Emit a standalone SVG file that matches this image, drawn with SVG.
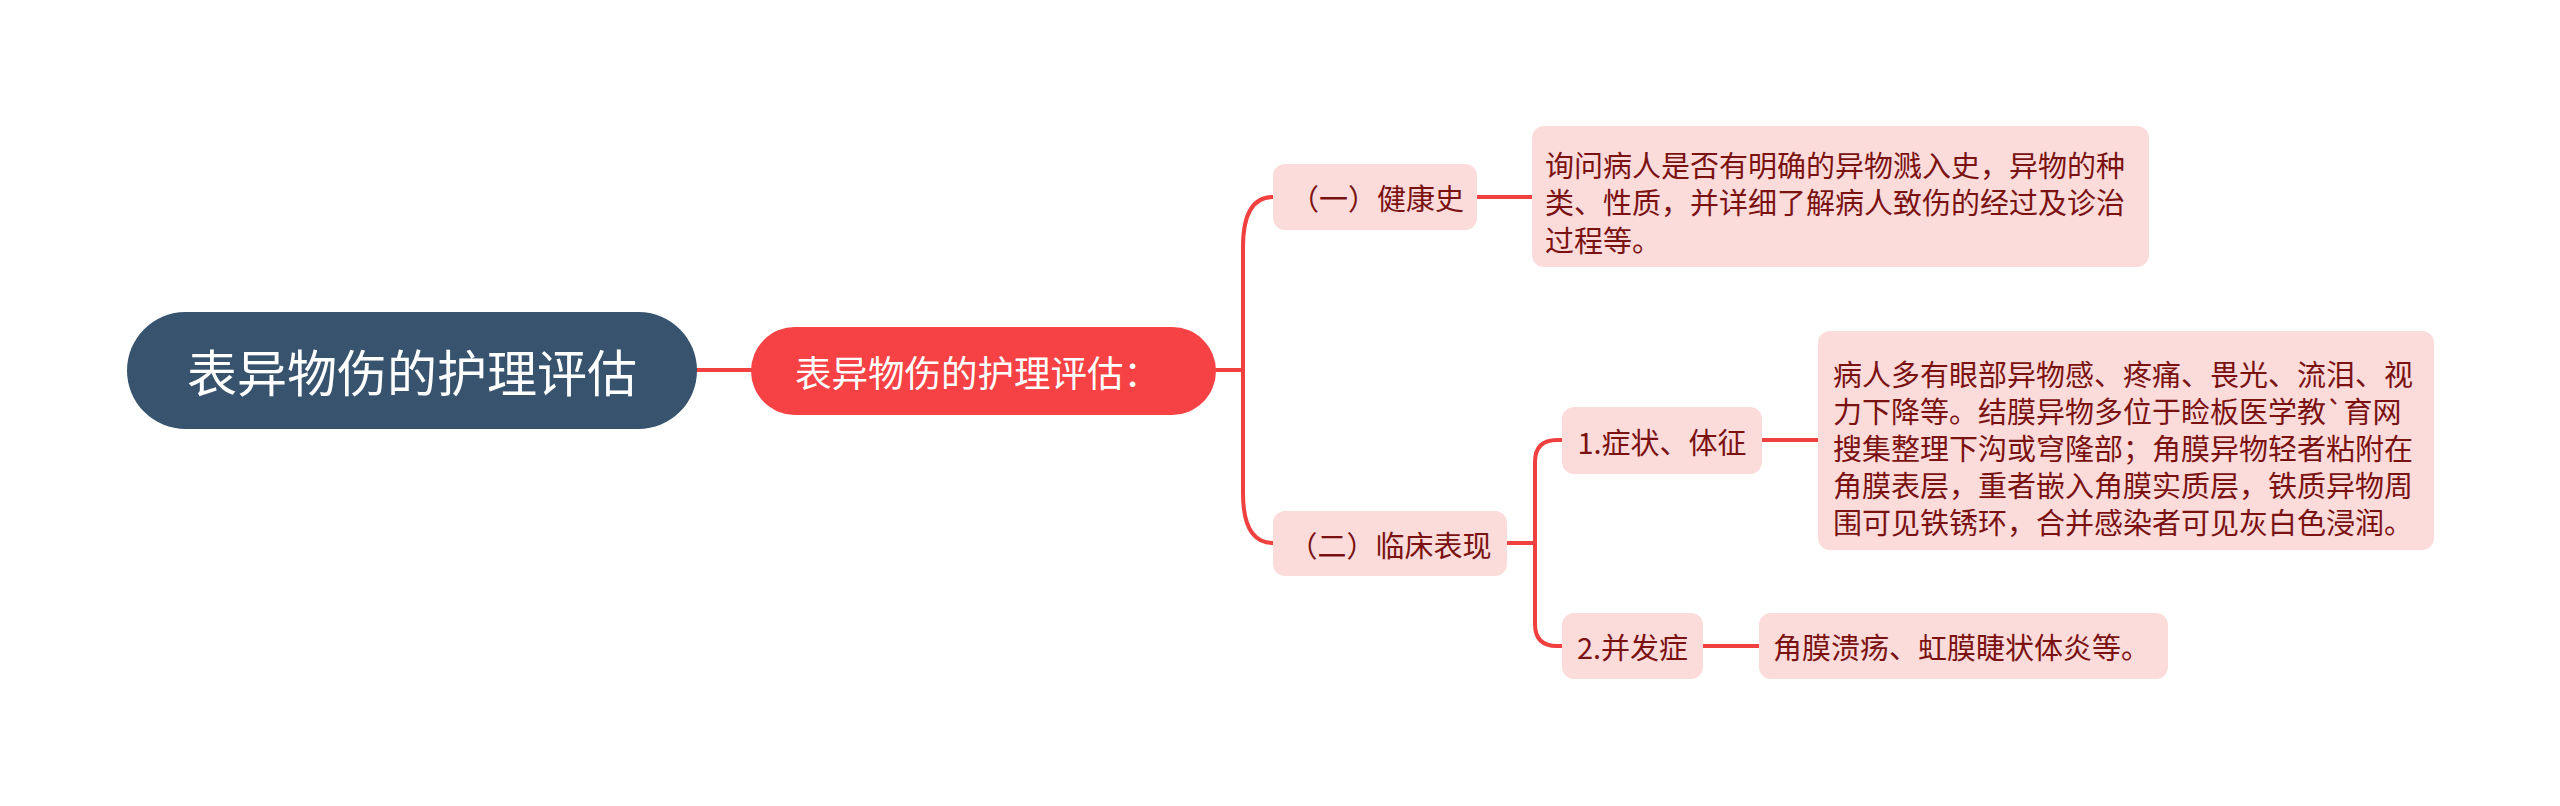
<svg xmlns="http://www.w3.org/2000/svg" width="2560" height="806" viewBox="0 0 2560 806">
<style>
.conn{fill:none;stroke:#f0403f;stroke-width:4;stroke-linecap:round}
.pink{fill:#fcdbdb}
.t{font-family:"Noto Sans CJK SC","Noto Sans",sans-serif;dominant-baseline:central}
.pt{fill:#7a1212;font-size:29px}
.wt{fill:#ffffff}
</style>
<rect width="2560" height="806" fill="#ffffff"/>
<g id="connectors">
<path class="conn" d="M697,370 H751"/>
<path class="conn" d="M1216,370 H1243"/>
<path class="conn" d="M1243,370 V247 Q1243,197 1273,197"/>
<path class="conn" d="M1243,370 V493 Q1243,543 1273,543"/>
<path class="conn" d="M1477,197 H1533"/>
<path class="conn" d="M1507,543 H1535"/>
<path class="conn" d="M1535,543 V462 Q1535,440 1557,440 H1562"/>
<path class="conn" d="M1535,543 V624 Q1535,646 1557,646 H1562"/>
<path class="conn" d="M1762,440 H1818"/>
<path class="conn" d="M1703,646 H1759"/>
</g>
<g id="root">
<rect x="127" y="312" width="570" height="117" rx="58.5" fill="#37536e"/>
<text class="t wt" x="412" y="370" font-size="50" text-anchor="middle">表异物伤的护理评估</text>
</g>
<g id="main">
<rect x="751" y="327" width="465" height="88" rx="44" fill="#f74245"/>
<text class="t wt" x="795" y="371" font-size="36.5">表异物伤的护理评估：</text>
</g>
<g id="health-history">
<rect class="pink" x="1273" y="164" width="204" height="66" rx="12"/>
<text class="t pt" x="1377" y="197" text-anchor="middle">（一）健康史</text>
</g>
<g id="health-history-detail">
<rect class="pink" x="1532" y="126" width="617" height="141" rx="12"/>
<text class="t pt" x="1545" y="163.5">询问病人是否有明确的异物溅入史，异物的种</text>
<text class="t pt" x="1545" y="201">类、性质，并详细了解病人致伤的经过及诊治</text>
<text class="t pt" x="1545" y="238.5">过程等。</text>
</g>
<g id="clinical">
<rect class="pink" x="1273" y="511" width="234" height="65" rx="12"/>
<text class="t pt" x="1390" y="543.5" text-anchor="middle">（二）临床表现</text>
</g>
<g id="symptoms">
<rect class="pink" x="1562" y="407" width="200" height="67" rx="12"/>
<text class="t pt" x="1662" y="440.5" text-anchor="middle">1.症状、体征</text>
</g>
<g id="symptoms-detail">
<rect class="pink" x="1818" y="331" width="616" height="219" rx="12"/>
<text class="t pt" x="1833" y="372.5">病人多有眼部异物感、疼痛、畏光、流泪、视</text>
<text class="t pt" x="1833" y="409.5">力下降等。结膜异物多位于睑板医学教`育网</text>
<text class="t pt" x="1833" y="446.5">搜集整理下沟或穹隆部；角膜异物轻者粘附在</text>
<text class="t pt" x="1833" y="483.5">角膜表层，重者嵌入角膜实质层，铁质异物周</text>
<text class="t pt" x="1833" y="520.5">围可见铁锈环，合并感染者可见灰白色浸润。</text>
</g>
<g id="complications">
<rect class="pink" x="1562" y="613" width="141" height="66" rx="12"/>
<text class="t pt" x="1632.5" y="646" text-anchor="middle">2.并发症</text>
</g>
<g id="complications-detail">
<rect class="pink" x="1759" y="613" width="409" height="66" rx="12"/>
<text class="t pt" x="1773" y="646">角膜溃疡、虹膜睫状体炎等。</text>
</g>
</svg>
